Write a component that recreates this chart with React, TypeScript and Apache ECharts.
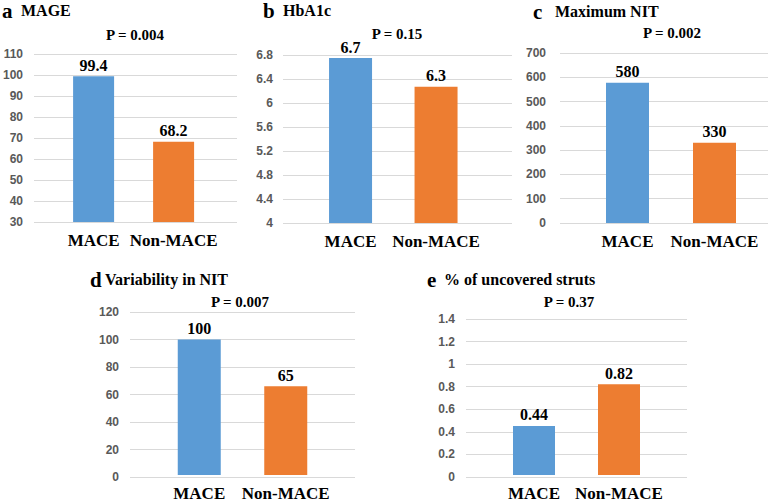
import React, { useEffect, useRef } from "react";
import * as echarts from "echarts";

const categories = ["MACE", "Non-MACE"];
const barColors = ["#5B9BD5", "#ED7D31"];

const mageValues = [99.4, 68.2];
const mageLabels = ["99.4", "68.2"];
const hba1cValues = [6.75, 6.27];
const hba1cLabels = ["6.7", "6.3"];
const maxNitValues = [578, 330];
const maxNitLabels = ["580", "330"];
const varNitValues = [99.7, 65.4];
const varNitLabels = ["100", "65"];
const strutValues = [0.44, 0.815];
const strutLabels = ["0.44", "0.82"];

const panelLetters = ["a", "b", "c", "d", "e"];
const panelTitles = ["MAGE", "HbA1c", "Maximum NIT", "Variability in NIT", "% of uncovered struts"];
const pTexts = ["P = 0.004", "P = 0.15", "P = 0.002", "P = 0.007", "P = 0.37"];
const yMins = [30, 4, 0, 0, 0];
const yMaxs = [110, 6.8, 700, 120, 1.4];
const yIntervals = [10, 0.4, 100, 20, 0.2];

const allValues = [mageValues, hba1cValues, maxNitValues, varNitValues, strutValues];
const allLabels = [mageLabels, hba1cLabels, maxNitLabels, varNitLabels, strutLabels];

// layout (pixels)
const layouts = [
  { gl: 32, gt: 54, gw: 205, gh: 168, nl: 53.6, nw: 160, bw: 41, lm: 11, lx: 2, tx: 21, ty: 10, px: 135, py: 35 },
  { gl: 283, gt: 55, gw: 229, gh: 168, nl: 307.8, nw: 171, bw: 43, lm: 10, lx: 263, tx: 283, ty: 10, px: 397, py: 34 },
  { gl: 560, gt: 53, gw: 208, gh: 170, nl: 584, nw: 174, bw: 43, lm: 14, lx: 533, tx: 555, ty: 11, px: 672, py: 33 },
  { gl: 130, gt: 312, gw: 225, gh: 165, nl: 156, nw: 173, bw: 43, lm: 11, lx: 90, tx: 105, ty: 279, px: 240, py: 302 },
  { gl: 466, gt: 319, gw: 221, gh: 158, nl: 491.5, nw: 170, bw: 42, lm: 11, lx: 427, tx: 444, ty: 279, px: 569, py: 302 },
];

const SERIF = "Liberation Serif, Times New Roman, serif";
const SANS = "Liberation Sans, Arial, sans-serif";

function txt(x: number, y: number, text: string, size: number, align: string) {
  return {
    type: "text",
    x,
    y,
    style: {
      text,
      fill: "#000",
      fontFamily: SERIF,
      fontWeight: "bold",
      fontSize: size,
      textAlign: align,
      align,
      textVerticalAlign: "middle",
      verticalAlign: "middle",
    },
  };
}

function buildOption() {
  const grid: any[] = [];
  const xAxis: any[] = [];
  const yAxis: any[] = [];
  const series: any[] = [];
  const graphic: any[] = [];

  layouts.forEach((L, i) => {
    grid.push({ left: L.gl, top: L.gt, width: L.gw, height: L.gh, containLabel: false });
    grid.push({ left: L.nl, top: L.gt, width: L.nw, height: L.gh, containLabel: false });

    xAxis.push({ type: "category", gridIndex: 2 * i, data: categories, show: false });
    xAxis.push({
      type: "category",
      gridIndex: 2 * i + 1,
      data: categories,
      axisLine: { show: false },
      axisTick: { show: false },
      axisLabel: {
        interval: 0,
        margin: 10,
        color: "#000",
        fontFamily: SERIF,
        fontWeight: "bold",
        fontSize: 17,
      },
    });
    yAxis.push({
      type: "value",
      gridIndex: 2 * i,
      min: yMins[i],
      max: yMaxs[i],
      interval: yIntervals[i],
      axisLine: { show: false },
      axisTick: { show: false },
      axisLabel: {
        margin: L.lm,
        color: "#595959",
        fontFamily: SANS,
        fontWeight: "bold",
        fontSize: 12,
      },
      splitLine: { show: true, lineStyle: { color: "#d9d9d9", width: 1 } },
    });
    yAxis.push({
      type: "value",
      gridIndex: 2 * i + 1,
      min: yMins[i],
      max: yMaxs[i],
      interval: yIntervals[i],
      show: false,
      splitLine: { show: false },
    });

    const labels = allLabels[i];
    series.push({
      type: "bar",
      xAxisIndex: 2 * i + 1,
      yAxisIndex: 2 * i + 1,
      barWidth: L.bw,
      data: allValues[i].map((v, j) => ({ value: v, itemStyle: { color: barColors[j] } })),
      label: {
        show: true,
        position: "top",
        distance: 3,
        formatter: (p: any) => labels[p.dataIndex],
        color: "#000",
        fontFamily: SERIF,
        fontWeight: "bold",
        fontSize: 16,
      },
    });

    graphic.push(txt(L.lx, L.ty + 1, panelLetters[i], 21, "left"));
    graphic.push(txt(L.tx, L.ty, panelTitles[i], 16, "left"));
    graphic.push(txt(L.px, L.py, pTexts[i], 15, "center"));
  });

  return {
    animation: false,
    backgroundColor: "#ffffff",
    grid,
    xAxis,
    yAxis,
    series,
    graphic,
  };
}

export default function App() {
  const ref = useRef<HTMLDivElement>(null);
  useEffect(() => {
    if (!ref.current) return;
    const chart = echarts.init(ref.current, undefined, { renderer: "svg" });
    chart.setOption(buildOption() as any);
    return () => chart.dispose();
  }, []);
  return (
    <div
      ref={ref}
      style={{ position: "absolute", left: 0, top: 0, width: 784, height: 502, background: "#fff" }}
    />
  );
}
